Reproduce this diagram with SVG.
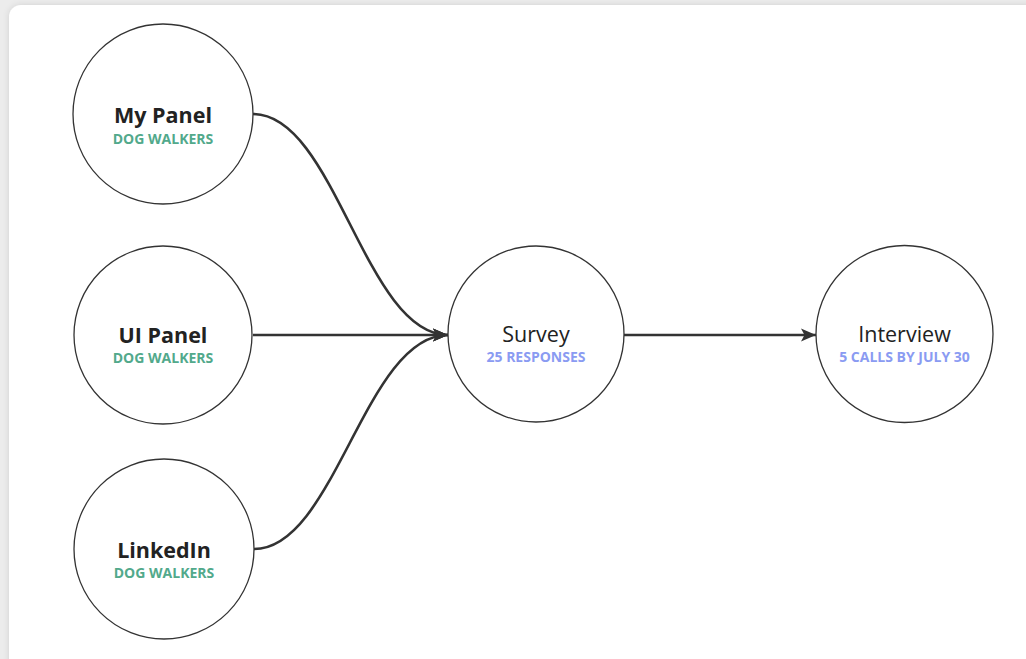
<svg xmlns="http://www.w3.org/2000/svg" width="1026" height="659" viewBox="0 0 1026 659">
  <defs>
    <filter id="shadow" x="-5%" y="-5%" width="110%" height="110%">
      <feDropShadow dx="0" dy="0" stdDeviation="3" flood-color="#000" flood-opacity="0.12"/>
    </filter>
    <marker id="arrow" markerWidth="16" markerHeight="14" refX="15" refY="7" orient="auto" markerUnits="userSpaceOnUse">
      <path d="M0,0.5 L15,7 L0,13.5 L3.5,7 Z" fill="#333"/>
    </marker>
    <style>
      .node circle { fill: #fff; stroke: #333; stroke-width: 1.3; }
      .title { font-family: "Open Sans", "Noto Sans", sans-serif; font-size: 21.5px; font-weight: 700; fill: #222; text-anchor: middle; }
      .title-reg { font-family: "Open Sans", "Noto Sans", sans-serif; font-size: 21.5px; font-weight: 400; fill: #222; text-anchor: middle; }
      .sub-green { font-family: "Open Sans", "Noto Sans", sans-serif; font-size: 14px; font-weight: 700; fill: #52a98b; text-anchor: middle; }
      .sub-blue { font-family: "Open Sans", "Noto Sans", sans-serif; font-size: 14px; font-weight: 700; fill: #8a9bf2; text-anchor: middle; }
      .edge { fill: none; stroke: #333; stroke-width: 2.6; marker-end: url(#arrow); }
    </style>
  </defs>
  <rect x="0" y="0" width="1026" height="659" fill="#ececec"/>
  <rect x="9" y="5" width="1040" height="680" rx="12" ry="12" fill="#fff" filter="url(#shadow)"/>

  <g id="connectors">
    <path class="edge" d="M253,114 C335,114 365,335 448,335"/>
    <path class="edge" d="M253,335 L448,335"/>
    <path class="edge" d="M254,549 C335,549 365,335 448,335"/>
    <path class="edge" d="M624,335 L816,335"/>
  </g>

  <g id="my-panel" class="node">
    <circle cx="163" cy="114" r="90"/>
    <text class="title" x="163" y="123">My Panel</text>
    <text class="sub-green" x="163" y="144">DOG WALKERS</text>
  </g>
  <g id="ui-panel" class="node">
    <circle cx="163" cy="335" r="89"/>
    <text class="title" x="163" y="343">UI Panel</text>
    <text class="sub-green" x="163" y="363">DOG WALKERS</text>
  </g>
  <g id="linkedin" class="node">
    <circle cx="164" cy="549" r="90"/>
    <text class="title" x="164" y="558">LinkedIn</text>
    <text class="sub-green" x="164" y="578">DOG WALKERS</text>
  </g>
  <g id="survey" class="node">
    <circle cx="536" cy="334" r="88"/>
    <text class="title-reg" x="536" y="342">Survey</text>
    <text class="sub-blue" x="536" y="362">25 RESPONSES</text>
  </g>
  <g id="interview" class="node">
    <circle cx="904.5" cy="334" r="88.5"/>
    <text class="title-reg" x="904.5" y="342">Interview</text>
    <text class="sub-blue" x="904.5" y="362">5 CALLS BY JULY 30</text>
  </g>
</svg>
